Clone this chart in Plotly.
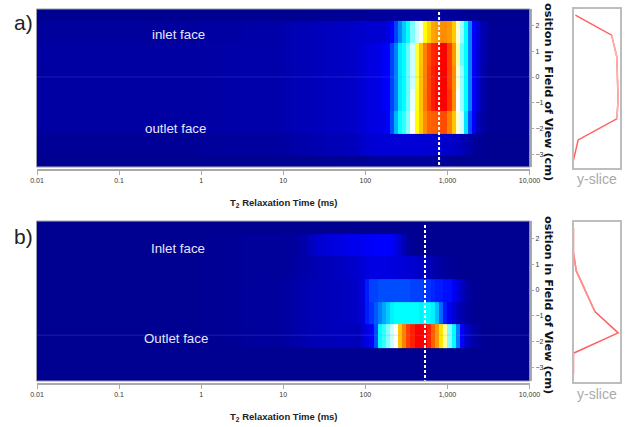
import plotly.graph_objects as go

W, H = 625, 427

LOG_T2_EDGES = [-2, -1, 0, 0.25, 0.5, 1, 1.1, 1.2, 1.3, 1.4, 1.5, 1.6, 1.7, 1.8,
                1.9, 1.95, 2.0, 2.05, 2.1,
                2.15, 2.2, 2.25, 2.3, 2.35, 2.4, 2.45, 2.5, 2.55, 2.6, 2.65, 2.7, 2.75, 2.8, 2.85,
                2.9, 2.95, 3.0, 3.05, 3.1, 3.15, 3.2, 3.25, 3.3, 3.35, 3.4, 3.45, 3.5, 4]
T2_EDGES = [10 ** v for v in LOG_T2_EDGES]

POS_EDGES_A = [2.64, 2.17, 1.32, 0.43, -0.47, -1.32, -2.21, -3.06, -3.49]
POS_EDGES_B = [2.67, 2.17, 1.32, 0.43, -0.47, -1.32, -2.25, -3.53]

A_ROWS = [
    [1, 1, 1, 1, 1, 1, 1, 1, 1.5, 1.5, 1.5, 2, 2, 2,  2, 2, 2, 3, 3,
     3, 3, 3, 3, 3, 3, 3, 3, 3, 3, 3, 3, 3, 3, 3, 3, 3, 3, 3, 2, 2, 2, 2, 2, 1, 1, 1, 1],
    [3, 3, 4, 4, 5, 6, 7, 7.5, 8, 8.5, 9, 9.5, 10, 10.5,  11, 11, 12, 12, 12,
     12, 13, 14, 20, 25, 31, 36, 40, 45, 48, 51, 60, 67, 74, 76, 78, 78, 76, 68, 52, 46, 40, 30, 20, 14, 8, 6, 2],
    [4, 4, 4.5, 5, 5.5, 6, 7, 7.5, 8, 8.5, 9, 9.5, 10, 10.5,  12, 13, 14, 15, 15,
     16, 18, 20, 25, 30, 38, 40, 44, 48, 58, 69, 80, 88, 94, 96, 100, 100, 90, 76, 54, 44, 40, 30, 20, 13, 8, 5, 2],
    [4, 4, 4.5, 5, 5.5, 6, 7, 7.5, 8, 8.5, 9, 9.5, 10, 10.5,  12, 13, 14, 15, 15,
     16, 18, 20, 25, 30, 38, 40, 44, 48, 58, 70, 80, 89, 95, 98, 100, 100, 90, 78, 52, 46, 40, 30, 20, 13, 7, 4, 2],
    [4, 4, 4.5, 5, 5.5, 6, 7, 7.5, 8, 8.5, 9, 9.5, 10, 10.5,  12, 13, 14, 15, 15,
     16, 18, 20, 25, 30, 38, 40, 44, 49, 59, 70, 81, 89, 96, 99, 100, 100, 92, 78, 50, 46, 40, 30, 20, 13, 7, 4, 2],
    [4, 4, 4.5, 5, 5.5, 6, 7, 7.5, 8, 8.5, 9, 9.5, 10, 10.5,  12, 13, 14, 15, 15,
     15, 16, 20, 26, 34, 40, 42, 45, 50, 60, 69, 78, 84, 85, 86, 88, 88, 80, 69, 52, 48, 38, 26, 20, 9, 5, 3, 2],
    [2, 2, 2.5, 3, 3.5, 4, 5, 5.5, 6, 6.5, 7, 7.5, 8, 8.5,  10, 11, 12, 12, 13,
     13, 13, 13, 13, 13, 13, 13, 13, 13, 13, 13, 12, 12, 12, 12, 12, 11, 11, 10, 9, 8, 6, 5, 3, 2, 2, 1, 1],
    [1, 1, 1, 1, 1, 1, 1, 1, 1.5, 1.5, 1.5, 2, 2, 2,  2, 2, 2, 3, 3,
     3, 3, 3, 3, 3, 3, 3, 3, 3, 3, 3, 3, 3, 3, 3, 3, 3, 2, 2, 1, 1, 1, 1, 1, 1, 1, 1, 1],
]

B_ROWS = [
    [1, 1, 1, 1, 1, 1, 1, 1, 1, 1, 1, 1, 1, 1,  1, 1, 1, 1, 1,
     1, 1, 1, 1, 1, 1, 1, 1, 1, 1, 1, 1, 1, 1, 1, 1, 1, 1, 1, 1, 1, 1, 1, 1, 1, 1, 1, 1],
    [1, 1, 1.5, 2, 2.5, 3, 3.5, 5, 9, 12, 13.5, 15, 16, 17,  17, 18, 19, 19, 20,
     20, 20, 20, 19, 16, 12, 8, 4, 2, 1, 1, 1, 1, 1, 1, 1, 1, 1, 1, 1, 1, 1, 1, 1, 1, 1, 1, 1],
    [1, 1, 1.5, 2, 2.5, 3, 4, 5, 6, 7, 8, 9, 10, 11,  12, 13, 14, 15, 15,
     15, 15, 15, 14, 14, 14, 13, 13, 12, 11, 10, 9, 8, 6, 5, 4, 3, 2, 2, 1, 1, 1, 1, 1, 1, 1, 1, 1],
    [1, 1, 1.5, 2, 3, 4, 5, 6, 7, 7.5, 8, 8.5, 9, 10,  12, 14, 22, 25, 25,
     26, 26, 26, 26, 26, 26, 26, 26, 25, 25, 25, 24, 24, 23, 22, 22, 21, 21, 19, 14, 10, 6, 3, 2, 2, 1, 1, 1],
    [1, 1, 1.5, 2, 3, 4, 5, 6, 7, 7.5, 8, 8.5, 9, 10,  12, 13, 22, 24, 27,
     30, 33, 36, 39, 40, 40, 40, 40, 40, 40, 39, 40, 40, 39, 35, 28, 22, 18, 13, 8, 6, 4, 2, 2, 1, 1, 1, 1],
    [1, 1, 1.5, 2, 3, 4, 5, 6, 7, 7.5, 8, 8.5, 8.5, 8,  8, 13, 15, 20, 26,
     40, 42, 45, 48, 50, 69, 80, 90, 95, 100, 100, 100, 95, 85, 76, 64, 54, 45, 40, 30, 20, 12, 8, 5, 3, 2, 1, 1],
    [1, 1, 1, 1, 1, 1, 1, 1, 1, 1, 1, 1, 1, 1,  1, 1, 1, 1, 1,
     1, 1, 1, 1, 1, 1, 1, 1, 1, 1, 1, 1, 1, 1, 1, 1, 1, 1, 1, 1, 1, 1, 1, 1, 1, 1, 1, 1],
]

A_SLICE_POS = [2.40, 1.62, 0.79, -0.90, -1.62, -2.44, -3.22]
A_SLICE_VAL = [0.04, 0.82, 0.93, 0.96, 0.93, 0.10, 0.0]
B_SLICE_POS = [2.39, 1.43, 0.74, -0.84, -1.66, -2.45, -3.26]
B_SLICE_VAL = [0.0, 0.0, 0.06, 0.46, 0.96, 0.0, 0.0]

A_CURSOR_T2 = 791
B_CURSOR_T2 = 533
T2_TICKS = [0.01, 0.1, 1, 10, 100, 1000, 10000]
T2_TICK_TEXT = ["0.01", "0.1", "1", "10", "100", "1,000", "10,000"]
POS_TICKS = [-3, -2, -1, 0, 1, 2]

for r in A_ROWS + B_ROWS:
    assert len(r) == len(T2_EDGES) - 1, len(r)

COLORS = [[0, "#00008b"], [0.2, "#0000ff"], [0.4, "#00ffff"], [0.5, "#ffffff"],
          [0.6, "#ffff00"], [0.8, "#ff8000"], [1, "#ff0000"]]
SANS = "Liberation Sans"


def fx(px):
    return px / W


def fy(px):
    return 1 - px / H


fig = go.Figure()
layout = {}
annos = []
shapes = []

panels = [
    dict(n=1, top=9, bot=167, zero=77, edges=POS_EDGES_A, rows=A_ROWS, pos=A_SLICE_POS, val=A_SLICE_VAL,
         cur=A_CURSOR_T2, lab="a)", t1="inlet face", t1xy=(178, 35), t2="outlet face", t2xy=(175, 128),
         seam=0.0, sbot=168, stop=9, axpx=170, title_y=203, slice_y=179, lab_y=22, ypix=(12, 171),
         ttl_y=92, soft=(1, 5), soft_col="#ffb0b0"),
    dict(n=2, top=221, bot=381, zero=290, edges=POS_EDGES_B, rows=B_ROWS, pos=B_SLICE_POS, val=B_SLICE_VAL,
         cur=B_CURSOR_T2, lab="b)", t1="Inlet face", t1xy=(178, 248), t2="Outlet face", t2xy=(176, 338),
         seam=-1.75, sbot=382, stop=222, axpx=384, title_y=417, slice_y=394, lab_y=237, ypix=(225, 385),
         ttl_y=305, soft=(1, 4), soft_col="#ff9090"),
]

for p in panels:
    k = (p["n"] - 1) * 2
    xa, ya = k + 1, k + 1
    xs, ys = k + 2, k + 2
    xan = f"x{xa}" if xa > 1 else "x"
    yan = f"y{ya}" if ya > 1 else "y"
    xsn, ysn = f"x{xs}", f"y{xs}"
    y_hi = (p["zero"] - p["top"]) / 25.8
    y_lo = (p["zero"] - p["bot"]) / 25.8

    fig.add_trace(go.Heatmap(x=T2_EDGES, y=p["edges"], z=p["rows"], zmin=0, zmax=100, colorscale=COLORS,
                             showscale=False, xaxis=xan, yaxis=yan, zsmooth=False))
    # faint horizontal seam
    fig.add_trace(go.Scatter(x=[T2_TICKS[0], T2_TICKS[-1]], y=[p["seam"], p["seam"]], mode="lines",
                             line=dict(color="rgba(130,130,255,0.22)", width=1), xaxis=xan, yaxis=yan,
                             showlegend=False))
    # dotted cursor
    cy = [(p["zero"] - p["ypix"][0]) / 25.8, (p["zero"] - p["ypix"][1]) / 25.8]
    fig.add_trace(go.Scatter(x=[p["cur"], p["cur"]], y=cy, mode="lines", cliponaxis=False,
                             line=dict(color="white", width=2, dash="3px,2px"), xaxis=xan, yaxis=yan,
                             showlegend=False))
    # slice
    fig.add_trace(go.Scatter(x=p["val"], y=p["pos"], mode="lines", cliponaxis=False,
                             line=dict(color="#ff6060", width=1.5), xaxis=xsn, yaxis=ysn, showlegend=False))
    a, b = p["soft"]
    fig.add_trace(go.Scatter(x=p["val"][a:b], y=p["pos"][a:b], mode="lines", cliponaxis=False,
                             line=dict(color=p["soft_col"], width=1.5), xaxis=xsn, yaxis=ysn, showlegend=False))

    xkey = "xaxis" if xa == 1 else f"xaxis{xa}"
    ykey = "yaxis" if ya == 1 else f"yaxis{ya}"
    layout[xkey] = dict(type="log", range=[-2, 4], domain=[fx(37), fx(529.5)], anchor="free",
                        position=fy(p["axpx"]), tickmode="array", tickvals=T2_TICKS, ticktext=T2_TICK_TEXT,
                        ticks="outside", ticklen=4, tickwidth=1, tickcolor="#aaa", showline=True,
                        linecolor="#aaa", linewidth=2, showgrid=False, zeroline=False,
                        tickfont=dict(family=SANS, size=7, color="#333"))
    layout[ykey] = dict(range=[y_lo, y_hi], domain=[fy(p["bot"]), fy(p["top"])], anchor="free",
                        position=fx(531), side="right", tickmode="array", tickvals=POS_TICKS,
                        ticks="outside", ticklen=2, tickwidth=1, tickcolor="#aaa", showline=True,
                        linecolor="#aaa", linewidth=2, showgrid=False, zeroline=False,
                        tickfont=dict(family=SANS, size=7, color="#333"))
    layout[f"xaxis{xs}"] = dict(range=[0, 1], domain=[fx(573.5), fx(620)], anchor=ysn, showticklabels=False,
                                ticks="", showgrid=False, zeroline=False, showline=True, mirror=True,
                                linecolor="#bdbdbd", linewidth=2)
    layout[f"yaxis{ys}"] = dict(range=[(p["zero"] - p["sbot"]) / 25.8, (p["zero"] - p["stop"]) / 25.8],
                                domain=[fy(p["sbot"]), fy(p["stop"])], anchor=xsn, showticklabels=False,
                                ticks="", showgrid=False, zeroline=False, showline=True, mirror=True,
                                linecolor="#bdbdbd", linewidth=2)

    shapes.append(dict(type="rect", xref="paper", yref="paper", x0=fx(36.5), x1=fx(530),
                       y0=fy(p["bot"]), y1=fy(p["top"]), line=dict(color="#9a9aa8", width=1)))

    def text(txt, x, y, size, color, family=SANS, angle=0, bold=False):
        annos.append(dict(text=f"<b>{txt}</b>" if bold else txt, x=fx(x), y=fy(y), xref="paper", yref="paper",
                          showarrow=False, xanchor="center", yanchor="middle", textangle=angle,
                          font=dict(family=family, size=size, color=color)))

    text(p["lab"], 23, p["lab_y"], 21, "#222")
    text(p["t1"], p["t1xy"][0], p["t1xy"][1], 13.3, "#e6e6fa")
    text(p["t2"], p["t2xy"][0], p["t2xy"][1], 13.3, "#e6e6fa")
    text("T<sub>2</sub> Relaxation Time (ms)", 284, p["title_y"], 9.5, "#222", bold=True)
    text("osition in Field of View (cm)", 549, p["ttl_y"], 11.3, "#111", family="DejaVu Sans", angle=90, bold=True)
    text("y-slice", 597, p["slice_y"], 14, "#aaaaaa")

fig.update_layout(width=W, height=H, margin=dict(l=0, r=0, t=0, b=0, autoexpand=False), paper_bgcolor="white",
                  plot_bgcolor="white", showlegend=False, annotations=annos, shapes=shapes, **layout)

fig.write_html("out.html", config={"displayModeBar": False},
               post_script="document.body.style.margin='0';document.body.style.overflow='hidden';")
